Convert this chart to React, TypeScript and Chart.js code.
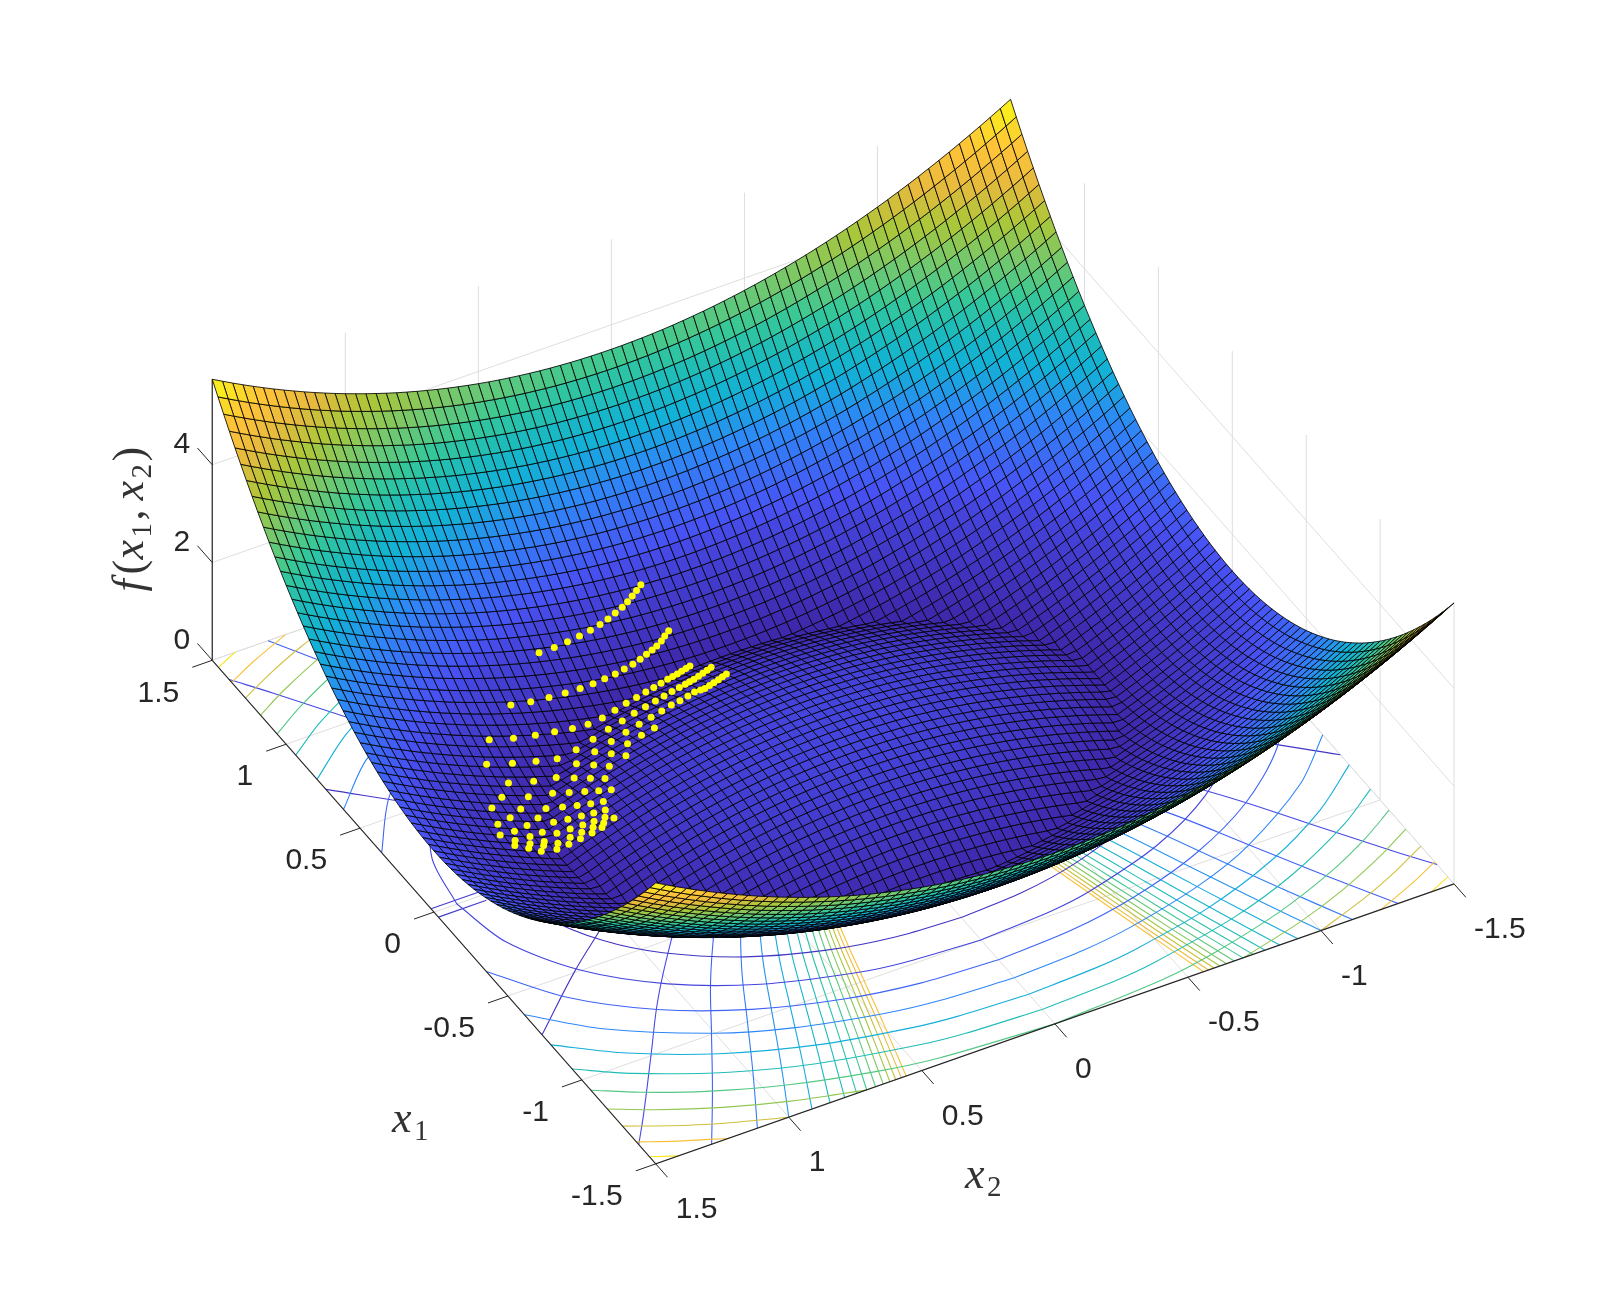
import React, { useEffect, useRef } from "react";
import { Chart, registerables } from "chart.js";

Chart.register(...registerables);

// ---- Data --------------------------------------------------------------
const meshAxis = [0, 0.0385, 0.0769, 0.1154, 0.1538, 0.1923, 0.2308, 0.2692, 0.3077, 0.3462, 0.3846, 0.4231, 0.4615, 0.5, 0.5385, 0.5769, 0.6154, 0.6538, 0.6923, 0.7308, 0.7692, 0.8077, 0.8462, 0.8846, 0.9231, 0.9615, 1, 1.0385, 1.0769, 1.1154, 1.1538, 1.1923, 1.2308, 1.2692, 1.3077, 1.3462, 1.3846, 1.4231, 1.4615, 1.5];
// Height of the rim along x2 = 1.5, as a function of |x1|
const rimAlongX1 = [1.25, 1.253, 1.262, 1.277, 1.297, 1.324, 1.357, 1.395, 1.44, 1.49, 1.546, 1.608, 1.676, 1.75, 1.83, 1.916, 2.008, 2.105, 2.208, 2.318, 2.433, 2.555, 2.682, 2.815, 2.954, 3.099, 3.25, 3.407, 3.57, 3.738, 3.913, 4.093, 4.28, 4.472, 4.67, 4.874, 5.084, 5.3, 5.522, 5.75];
// Height of the rim along x1 = 1.5, as a function of |x2|
const rimAlongX2 = [3.5, 3.501, 3.506, 3.513, 3.524, 3.537, 3.553, 3.572, 3.595, 3.62, 3.648, 3.679, 3.713, 3.75, 3.79, 3.833, 3.879, 3.928, 3.979, 4.034, 4.092, 4.152, 4.216, 4.283, 4.352, 4.425, 4.5, 4.578, 4.66, 4.744, 4.831, 4.922, 5.015, 5.111, 5.21, 5.312, 5.417, 5.525, 5.636, 5.75];
const cornerHeight = 5.75;

const x1Ticks = [1.5, 1, 0.5, 0, -0.5, -1, -1.5];
const x2Ticks = [1.5, 1, 0.5, 0, -0.5, -1, -1.5];
const zTicks = [0, 2, 4];
const tickText = (v: number) => String(v);

// Ellipse-like floor contours: quadrant points [|x1|, |x2|], one list per level
const ringLevels = [0.5, 1, 1.5, 2, 2.5, 3, 3.5, 4, 4.5, 5, 5.5];
const ringCurves: number[][][] = [
  [[0, 1.225], [0.2, 1.192], [0.4, 1.086], [0.55, 0.946], [0.7, 0.721], [0.8, 0.469], [0.85, 0.235], [0.866, 0]],
  [[0, 1.414], [0.25, 1.369], [0.5, 1.225], [0.7, 1.01], [0.85, 0.745], [0.95, 0.442], [0.98, 0.28], [1, 0]],
  [[0.354, 1.5], [0.6, 1.334], [0.8, 1.105], [0.95, 0.834], [1.05, 0.543], [1.1, 0.283], [1.118, 0]],
  [[0.612, 1.5], [0.8, 1.311], [1, 1], [1.1, 0.762], [1.18, 0.464], [1.21, 0.268], [1.225, 0]],
  [[0.791, 1.5], [0.95, 1.302], [1.1, 1.039], [1.22, 0.723], [1.29, 0.415], [1.31, 0.261], [1.323, 0]],
  [[0.935, 1.5], [1.05, 1.34], [1.2, 1.058], [1.3, 0.787], [1.38, 0.437], [1.4, 0.283], [1.414, 0]],
  [[1.061, 1.5], [1.15, 1.362], [1.25, 1.173], [1.35, 0.925], [1.43, 0.64], [1.47, 0.422], [1.5, 0]],
  [[1.173, 1.5], [1.25, 1.369], [1.35, 1.164], [1.43, 0.954], [1.5, 0.707]],
  [[1.275, 1.5], [1.35, 1.362], [1.42, 1.211], [1.5, 1]],
  [[1.369, 1.5], [1.43, 1.382], [1.5, 1.225]],
  [[1.458, 1.5], [1.5, 1.414]],
];

// Second contour family: x2 where each curve meets |x1| = 1.5, plus the shared bend
const sideCurveIntercepts = [2.236, 1.58, 1.29, 1.118, 1, 0.913, 0.845, 0.79, 0.745, 0.707, 0.674, 0.645, 0.62, 0.598, 0.577, 0.559];
const sideCurveX1 = [0, 0.25, 0.5, 0.75, 1, 1.25, 1.5];
const sideCurveBend = [0.33, 0.43, 0.56, 0.68, 0.785, 0.89, 1];

// The pair of short lines either side of x1 = 0 on the near edge
const centreLineX1 = [0.02, -0.03];
const centreLineX2 = [1.5, 1.32];

// Yellow iterates, read as [x, y] in a crop whose origin and zoom are given below
const dotCropOrigin = [460, 560];
const dotCropZoom = 3;
const dotCropReadings = [
  [540, 73], [527, 90], [514, 107], [500, 124], [484, 141], [463, 158], [441, 176], [417, 193], [388, 210], [355, 228], [319, 245], [279, 262], [233, 278],
  [624, 212], [612, 228], [602, 243], [588, 258], [574, 270], [557, 283], [538, 298], [516, 313], [490, 327], [463, 342], [431, 357], [396, 372], [357, 386], [312, 400], [263, 413], [208, 426], [148, 436],
  [688, 318], [676, 326], [663, 334], [650, 342], [636, 350], [621, 358], [601, 370], [579, 383], [555, 397], [527, 413], [496, 431], [462, 452], [424, 475], [381, 494], [334, 507], [280, 517], [222, 527], [156, 536], [83, 541],
  [752, 322], [740, 331], [727, 340], [714, 349], [700, 358], [687, 366], [674, 373], [656, 383], [634, 395], [610, 409], [584, 424], [554, 441], [520, 461], [484, 484], [442, 509], [396, 539], [345, 571], [288, 598], [224, 606], [153, 612], [75, 615],
  [798, 342], [786, 351], [774, 360], [760, 369], [747, 377], [733, 386], [720, 391], [702, 397], [682, 409], [658, 423], [632, 436], [603, 454], [571, 473], [535, 494], [495, 518], [451, 546], [401, 577], [346, 613], [285, 655], [217, 666], [141, 671],
  [581, 505], [542, 527], [500, 553], [451, 583], [398, 617], [339, 656], [274, 702], [201, 713], [121, 714],
  [495, 589], [445, 621], [388, 657], [324, 700], [254, 748], [178, 750], [91, 747],
  [432, 658], [371, 697], [304, 744], [230, 777], [146, 776],
  [413, 695], [348, 739], [277, 790], [197, 800], [109, 796],
  [451, 692], [389, 734], [320, 781], [243, 820], [159, 817], [116, 828],
  [427, 727], [361, 771], [287, 823], [206, 833],
  [433, 753], [398, 762], [327, 810], [249, 848], [161, 845],
  [459, 777], [432, 775], [399, 787], [365, 798], [327, 835], [290, 853], [247, 860], [206, 855], [160, 860],
  [423, 806], [393, 822], [358, 840], [323, 856], [287, 871], [240, 877], [202, 868], [362, 820], [396, 805], [428, 792],
];

// ---- Colour and view -----------------------------------------------------
const parulaStops = [
  [62, 38, 168], [72, 82, 244], [46, 135, 247], [18, 177, 214], [30, 188, 185], [55, 200, 151],
  [115, 200, 110], [171, 199, 57], [230, 186, 62], [254, 195, 56], [249, 251, 21],
];
function parula(t: number): string {
  const v = Math.max(0, Math.min(1, t)) * (parulaStops.length - 1);
  const i = Math.min(parulaStops.length - 2, Math.floor(v));
  const f = v - i;
  const a = parulaStops[i];
  const b = parulaStops[i + 1];
  return `rgb(${a[0] + (b[0] - a[0]) * f},${a[1] + (b[1] - a[1]) * f},${a[2] + (b[2] - a[2]) * f})`;
}
// Height fraction -> colormap position, matched to the colours in the picture
const heightFractionStops = [0, 0.174, 0.35, 0.47, 0.61, 0.75, 0.87, 1];
const colourPositionStops = [0, 0.07, 0.2, 0.33, 0.55, 0.72, 0.88, 1];
function colourForHeight(z: number): string {
  const h = Math.max(0, Math.min(1, z / cornerHeight));
  let i = 0;
  while (i < heightFractionStops.length - 2 && h > heightFractionStops[i + 1]) i++;
  const f = (h - heightFractionStops[i]) / (heightFractionStops[i + 1] - heightFractionStops[i]);
  return parula(colourPositionStops[i] + f * (colourPositionStops[i + 1] - colourPositionStops[i]));
}
const sideCurveColourSpan = 18;
const sideCurveColourPower = 1.15;

const view = {
  cx: 833.3, cy: 772.8,
  x1: [-148.57, -168.9],
  x2: [-267.43, 93.9],
  z: -49.17,
};
const project = (x1: number, x2: number, z = 0) => ({
  x: view.cx + view.x1[0] * x1 + view.x2[0] * x2,
  y: view.cy + view.x1[1] * x1 + view.x2[1] * x2 + view.z * z,
});
const depthOf = (x1: number, x2: number, z: number) => -x1 + 0.5555 * x2 + 4.497 * z;

// Mesh: the axis and both rim profiles are mirrored about 0. Interior vertices are
// combined from the two read rim profiles by a relation fitted to the picture; they
// are not individually read values.
const signedIndex: number[] = [];
for (let k = meshAxis.length - 1; k > 0; k--) signedIndex.push(-k);
for (let k = 0; k < meshAxis.length; k++) signedIndex.push(k);
const meshSize = signedIndex.length;
const meshValue = (i: number, j: number) =>
  Math.abs(rimAlongX1[Math.abs(signedIndex[i])] + rimAlongX2[Math.abs(signedIndex[j])] - cornerHeight);
const axisValue = (i: number) => Math.sign(signedIndex[i]) * meshAxis[Math.abs(signedIndex[i])];

function buildSurface() {
  const points: { x: number; y: number }[] = [];
  const heights: number[] = [];
  for (let i = 0; i < meshSize; i++) {
    for (let j = 0; j < meshSize; j++) {
      const z = meshValue(i, j);
      heights.push(z);
      points.push(project(axisValue(i), axisValue(j), z));
    }
  }
  const quads: { k: number[]; d: number; c: string }[] = [];
  for (let i = 0; i < meshSize - 1; i++) {
    for (let j = 0; j < meshSize - 1; j++) {
      const k = [i * meshSize + j, (i + 1) * meshSize + j, (i + 1) * meshSize + j + 1, i * meshSize + j + 1];
      const zm = (heights[k[0]] + heights[k[1]] + heights[k[2]] + heights[k[3]]) / 4;
      const x1m = (axisValue(i) + axisValue(i + 1)) / 2;
      const x2m = (axisValue(j) + axisValue(j + 1)) / 2;
      quads.push({ k, d: depthOf(x1m, x2m, zm), c: colourForHeight(zm) });
    }
  }
  quads.sort((a, b) => a.d - b.d);
  return { points, quads };
}

const lineSet = (data: { x: number; y: number }[], color: string, width: number, tension = 0) => ({
  type: "scatter" as const,
  data,
  showLine: true,
  pointRadius: 0,
  borderColor: color,
  borderWidth: width,
  tension,
  fill: false,
});

const gridColor = "#dedede";
const axisColor = "#262626";
const textColor = "#262626";

function floorGridSets() {
  const out: any[] = [];
  const top = cornerHeight;
  for (const v of x1Ticks) {
    out.push(lineSet([project(v, 1.5), project(v, -1.5), project(v, -1.5, top)], gridColor, 1));
  }
  for (const v of x2Ticks) {
    out.push(lineSet([project(-1.5, v), project(1.5, v), project(1.5, v, top)], gridColor, 1));
  }
  for (const z of zTicks) {
    out.push(lineSet([project(1.5, 1.5, z), project(1.5, -1.5, z), project(-1.5, -1.5, z)], gridColor, 1));
  }
  return out;
}

function contourSets() {
  const out: any[] = [];
  const signs = [[1, 1], [1, -1], [-1, 1], [-1, -1]];
  ringCurves.forEach((curve, n) => {
    const colour = colourForHeight(ringLevels[n]);
    for (const [s1, s2] of signs) {
      out.push(lineSet(curve.map(([a, b]) => project(s1 * a, s2 * b)), colour, 1.1, 0.3));
    }
  });
  sideCurveIntercepts.forEach((h, n) => {
    const colour = parula(Math.pow((n + 1) / sideCurveColourSpan, sideCurveColourPower));
    const quadrant: number[][] = [];
    for (let k = 0; k < sideCurveX1.length; k++) {
      const a = sideCurveX1[k];
      const b = h * sideCurveBend[k];
      if (b <= 1.5) {
        quadrant.push([a, b]);
      } else {
        const pa = sideCurveX1[k - 1];
        const pb = h * sideCurveBend[k - 1];
        if (pb < 1.5) quadrant.push([pa + ((1.5 - pb) / (b - pb)) * (a - pa), 1.5]);
        break;
      }
    }
    for (const [s1, s2] of signs) {
      out.push(lineSet(quadrant.map(([a, b]) => project(s1 * a, s2 * b)), colour, 1.1, 0.4));
    }
  });
  for (const v of centreLineX1) {
    out.push(lineSet(centreLineX2.map((b) => project(v, b)), parula(0.05), 1.1));
  }
  return out;
}

function axisSets() {
  const out: any[] = [];
  out.push(lineSet([project(1.5, 1.5), project(-1.5, 1.5), project(-1.5, -1.5)], axisColor, 1.1));
  out.push(lineSet([project(1.5, 1.5), project(1.5, 1.5, cornerHeight)], axisColor, 1.2));
  for (const v of x1Ticks) out.push(lineSet([project(v, 1.5), project(v, 1.575)], axisColor, 1));
  for (const v of x2Ticks) out.push(lineSet([project(-1.5, v), project(-1.58, v)], axisColor, 1));
  for (const v of zTicks) out.push(lineSet([project(1.5, 1.5, v), project(1.6, 1.5, v)], axisColor, 1));
  return out;
}

const surface = buildSurface();

const surfacePlugin = {
  id: "surfaceMesh",
  afterDatasetDraw(chart: any, args: any) {
    if (chart.data.datasets[args.index].label !== "surface") return;
    const pts = args.meta.data;
    const ctx = chart.ctx;
    ctx.save();
    ctx.lineJoin = "round";
    ctx.lineWidth = 0.95;
    ctx.strokeStyle = "rgba(0,0,0,0.88)";
    for (const q of surface.quads) {
      ctx.beginPath();
      ctx.moveTo(pts[q.k[0]].x, pts[q.k[0]].y);
      for (let n = 1; n < 4; n++) ctx.lineTo(pts[q.k[n]].x, pts[q.k[n]].y);
      ctx.closePath();
      ctx.fillStyle = q.c;
      ctx.fill();
      ctx.stroke();
    }
    ctx.restore();
  },
};

const mathFont = '"Liberation Serif"';
function drawMath(ctx: CanvasRenderingContext2D, x: number, y: number, parts: [string, string, number, number][]) {
  // parts: text, style, advance, baseline shift
  let width = 0;
  for (const p of parts) width += p[2];
  let cur = x - width / 2;
  ctx.textAlign = "left";
  ctx.textBaseline = "alphabetic";
  for (const [t, style, adv, dy] of parts) {
    ctx.font = `${style} ${mathFont}`;
    ctx.fillText(t, cur, y + dy);
    cur += adv;
  }
}

const labelPlugin = {
  id: "axisText",
  afterDraw(chart: any) {
    const ctx = chart.ctx as CanvasRenderingContext2D;
    const sx = chart.scales.x;
    const sy = chart.scales.y;
    const at = (p: { x: number; y: number }) => ({ x: sx.getPixelForValue(p.x), y: sy.getPixelForValue(p.y) });
    ctx.save();
    ctx.fillStyle = textColor;
    ctx.font = '30px "Liberation Sans"';
    ctx.textBaseline = "middle";
    ctx.textAlign = "right";
    for (const v of x1Ticks) {
      const p = at(project(v, 1.5));
      ctx.fillText(tickText(v), p.x - 33, p.y + 33);
    }
    for (const v of zTicks) {
      const p = at(project(1.5, 1.5, v));
      ctx.fillText(tickText(v), p.x - 22, p.y - 20);
    }
    ctx.textAlign = "left";
    for (const v of x2Ticks) {
      const p = at(project(-1.5, v));
      ctx.fillText(tickText(v), p.x + 20, p.y + 46);
    }
    ctx.fillStyle = "#333";
    const big = "italic 44px";
    const sub = "29px";
    drawMath(ctx, 411, 1132, [["x", big, 22, 0], ["1", sub, 16, 8]]);
    drawMath(ctx, 984, 1188, [["x", big, 22, 0], ["2", sub, 16, 8]]);
    ctx.save();
    ctx.translate(143, 519);
    ctx.rotate(-Math.PI / 2);
    drawMath(ctx, 0, 0, [
      ["f", big, 17, 0], ["(", "44px", 15, 0], ["x", big, 22, 0], ["1", sub, 17, 8], [",", "44px", 20, 0],
      ["x", big, 22, 0], ["2", sub, 17, 8], [")", "44px", 15, 0],
    ]);
    ctx.restore();
    ctx.restore();
  },
};

export default function App() {
  const ref = useRef<HTMLCanvasElement | null>(null);
  useEffect(() => {
    document.body.style.margin = "0";
    document.body.style.background = "#fff";
    const dots = dotCropReadings.map(([a, b]) => ({
      x: dotCropOrigin[0] + a / dotCropZoom,
      y: dotCropOrigin[1] + b / dotCropZoom,
    }));
    const chart = new Chart(ref.current as HTMLCanvasElement, {
      type: "scatter",
      data: {
        datasets: [
          { label: "iterates", data: dots, pointRadius: 3.5, pointBackgroundColor: "#ffff00", pointBorderWidth: 0, showLine: false },
          { label: "surface", data: surface.points, pointRadius: 0, showLine: false },
          ...axisSets(),
          ...contourSets(),
          ...floorGridSets(),
        ] as any,
      },
      options: {
        animation: false,
        responsive: false,
        events: [],
        layout: { padding: 0 },
        plugins: { legend: { display: false }, tooltip: { enabled: false } },
        scales: {
          x: { type: "linear", min: 0, max: 1610, display: false },
          y: { type: "linear", min: 0, max: 1310, reverse: true, display: false },
        },
      },
      plugins: [surfacePlugin, labelPlugin],
    });
    return () => chart.destroy();
  }, []);
  return <canvas ref={ref} width={1610} height={1310} style={{ display: "block" }} />;
}
